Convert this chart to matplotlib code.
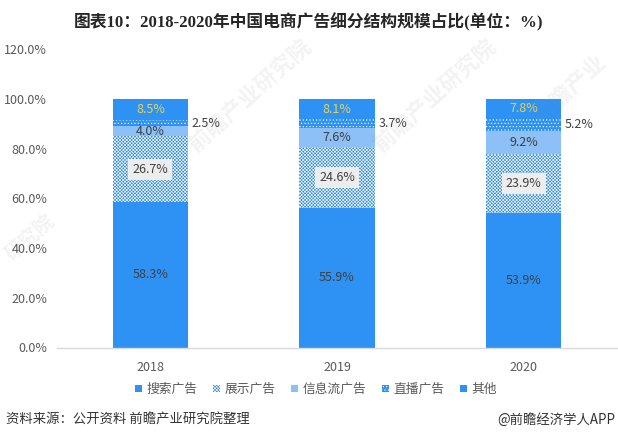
import matplotlib
matplotlib.use('Agg')
import matplotlib.pyplot as plt
from matplotlib.patches import Patch

plt.rcParams['font.family'] = ['Noto Sans CJK SC', 'DejaVu Sans']
plt.rcParams['hatch.linewidth'] = 0.45

years = ['2018', '2019', '2020']
search = [58.3, 55.9, 53.9]
display = [26.7, 24.6, 23.9]
feed = [4.0, 7.6, 9.2]
live = [2.5, 3.7, 5.2]
other = [8.5, 8.1, 7.8]
yticks = [0, 20, 40, 60, 80, 100, 120]

BLUE = '#2E92F5'
W, H = 618, 441
fig = plt.figure(figsize=(W / 100, H / 100), dpi=100, facecolor='white')
ax = fig.add_axes([57 / W, 1 - 347.5 / H, 560 / W, 298.5 / H])
ax.set_xlim(-0.5, 2.5)
ax.set_ylim(0, 120)
xs = range(len(years))
bw = 0.402

bottom = [0, 0, 0]
styles = [
    (search, dict(facecolor=BLUE, edgecolor=BLUE, lw=0)),
    (display, dict(facecolor='#2A86E0', edgecolor='white', hatch='xxxxxxxxxx', lw=0)),
    (feed, dict(facecolor='#8CC0F7', lw=0)),
    (live, dict(facecolor=BLUE, edgecolor='white', hatch='.....', lw=0)),
    (other, dict(facecolor=BLUE, lw=0)),
]
for vals, st in styles:
    ax.bar(xs, vals, bw, bottom=bottom, zorder=2, **st)
    bottom = [b + v for b, v in zip(bottom, vals)]

for s in ['top', 'right', 'left']:
    ax.spines[s].set_visible(False)
ax.spines['bottom'].set_color('#D9D9D9')
ax.spines['bottom'].set_linewidth(1)
ax.set_yticks(yticks)
ax.set_yticklabels([f'{v:.1f}%' for v in yticks], fontsize=9, color='#595959')
ax.set_xticks(list(xs))
ax.set_xticklabels(years, fontsize=9, color='#595959')
ax.tick_params(length=0)
ax.tick_params(axis='x', pad=10)
ax.tick_params(axis='y', pad=7)

DARK = '#404040'
for i in xs:
    ax.text(i, search[i] / 2, f'{search[i]}%', ha='center', va='center', fontsize=9, color=DARK, zorder=4)
    b = search[i]
    ax.text(i, b + display[i] / 2, f'{display[i]}%', ha='center', va='center', fontsize=9, color=DARK, zorder=4,
            bbox=dict(facecolor='#EDEDED', edgecolor='none', pad=3))
    b += display[i]
    ax.text(i, b + feed[i] / 2, f'{feed[i]:.1f}%', ha='center', va='center', fontsize=9, color=DARK, zorder=4)
    b += feed[i]
    ax.text(i + bw / 2 + 0.02, b + live[i] / 2, f'{live[i]}%', ha='left', va='center', fontsize=9, color=DARK, zorder=4)
    b += live[i]
    ax.text(i, b + other[i] / 2, f'{other[i]}%', ha='center', va='center', fontsize=9, color='#E8D44D', zorder=4)

# faint watermark
for (px, py, t, fs) in [(250, 95, '前瞻产业研究院', 16), (435, 95, '前瞻产业研究院', 16), (30, 238, '研究院', 14),
                        (570, 90, '前瞻产业', 16)]:
    fig.text(px / W, 1 - py / H, t, fontsize=fs, color='#8A8A8A', alpha=0.10,
             rotation=42, ha='center', va='center', zorder=5, fontweight='bold')

handles = [
    Patch(facecolor=BLUE),
    Patch(facecolor='#2A86E0', edgecolor='white', hatch='xxxxxxxxxx', lw=0),
    Patch(facecolor='#8CC0F7'),
    Patch(facecolor=BLUE, edgecolor='white', hatch='.....', lw=0),
    Patch(facecolor=BLUE),
]
labels = ['搜索广告', '展示广告', '信息流广告', '直播广告', '其他']
fig.legend(handles, labels, loc='center', bbox_to_anchor=(316 / W, 1 - 389.5 / H), ncol=5, frameon=False,
           fontsize=9.2, labelcolor='#595959', handlelength=0.55, handleheight=0.55, handletextpad=0.31,
           columnspacing=1.25)

fig.text(309 / W, 1 - 22 / H, '图表10：2018-2020年中国电商广告细分结构规模占比(单位：%)', ha='center', va='center',
         fontsize=12.1, fontweight='bold', color='#262626', family=['Liberation Serif', 'Noto Sans CJK SC'])
fig.text(6 / W, 1 - 420 / H, '资料来源：公开资料 前瞻产业研究院整理', ha='left', va='center', fontsize=9.6, color='#333333')
fig.text(615 / W, 1 - 420 / H, '@前瞻经济学人APP', ha='right', va='center', fontsize=9.6, color='#333333')

fig.savefig('out.png', dpi=100)
